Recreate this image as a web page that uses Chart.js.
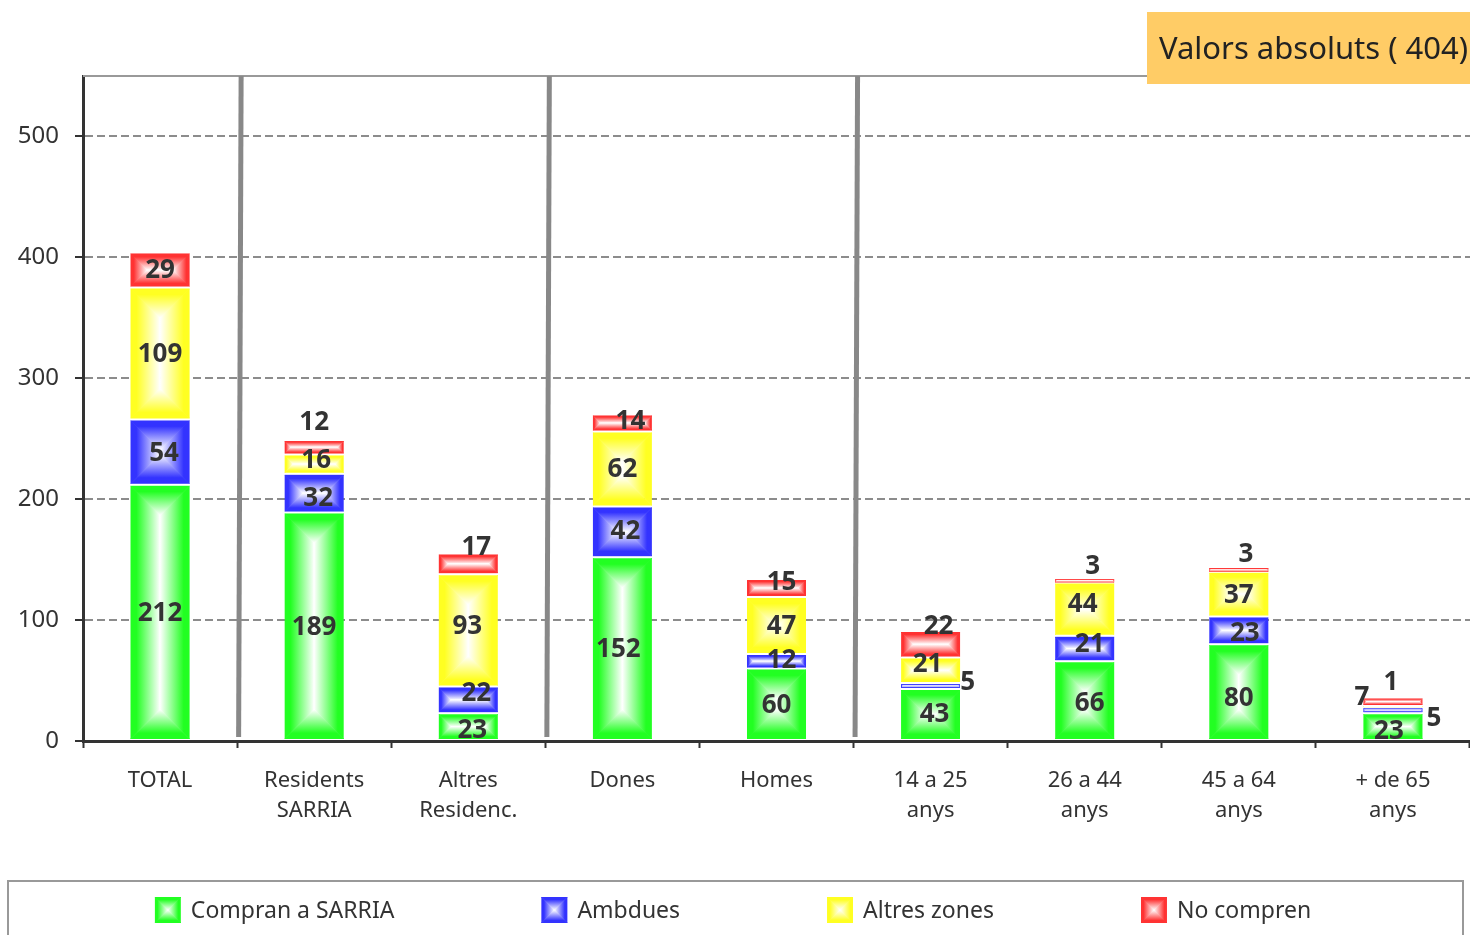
<!DOCTYPE html>
<html>
<head>
<meta charset="utf-8">
<script src="https://cdn.jsdelivr.net/npm/chart.js@4.4.1/dist/chart.umd.min.js"></script>
<style>
  html, body { margin: 0; padding: 0; background: #fff; }
  #wrap { width: 1470px; height: 935px; }
</style>
</head>
<body>
<div id="wrap"><canvas id="grafic" width="1470" height="935"></canvas></div>
<script>
// dades
const categories = ['TOTAL', ['Residents', 'SARRIA'], ['Altres', 'Residenc.'], 'Dones', 'Homes',
  ['14 a 25', 'anys'], ['26 a 44', 'anys'], ['45 a 64', 'anys'], ['+ de 65', 'anys']];
const compranSarria = [212, 189, 23, 152, 60, 43, 66, 80, 23];
const ambdues       = [54, 32, 22, 42, 12, 5, 21, 23, 5];
const altresZones   = [109, 16, 93, 62, 47, 21, 44, 37, 1];
const noCompren     = [29, 12, 17, 14, 15, 22, 3, 3, 7];
const seriesNames   = ['Compran a SARRIA', 'Ambdues', 'Altres zones', 'No compren'];
const yTicks        = [0, 100, 200, 300, 400, 500];
const totalEnquestats = 404;

const seriesColors = ['#22ff22', '#3333ff', '#ffff22', '#ff3333'];
const FONT = "'Noto Sans', 'DejaVu Sans', sans-serif";

// desplaçament de les etiquetes [dx, dy] per sèrie i categoria
const labelNudge = [
  [[0,0],[0,0],[4,3],[-4,0],[0,0],[4,-1],[5,2],[0,5],[-4,4]],
  [[4,1],[4,4],[8,-7],[3,-1],[5,-2],[37,-4],[5,-5],[6,2],[41,7]],
  [[0,0],[2,-5],[-1,-5],[0,0],[5,0],[-3,-7],[-2,-6],[0,0],[-2,-25]],
  [[0,0],[0,-26],[8,-17],[8,-2],[5,-6],[8,-19],[8,-15],[7,-16],[-31,-5]],
];

// farciment "piràmide": color a les vores, blanc al centre
function boxFill(ctx, x0, y0, x1, y1, color) {
  const w = x1 - x0, h = y1 - y0;
  if (w <= 0 || h <= 0) return;
  const c = Math.min(w, h) / 2, cx = (x0 + x1) / 2, cy = (y0 + y1) / 2;
  let ix0, ix1, iy0, iy1;
  if (h >= w) { ix0 = ix1 = cx; iy0 = y0 + c; iy1 = y1 - c; }
  else { iy0 = iy1 = cy; ix0 = x0 + c; ix1 = x1 - c; }
  const parts = [
    [[x0, y0], [ix0, iy0], [ix0, iy1], [x0, y1], x0, 0, x0 + c, 0],
    [[x1, y0], [ix1, iy0], [ix1, iy1], [x1, y1], x1, 0, x1 - c, 0],
    [[x0, y0], [x1, y0], [ix1, iy0], [ix0, iy0], 0, y0, 0, y0 + c],
    [[x0, y1], [x1, y1], [ix1, iy1], [ix0, iy1], 0, y1, 0, y1 - c],
  ];
  ctx.save();
  ctx.beginPath(); ctx.rect(x0, y0, w, h); ctx.clip();
  parts.forEach(p => {
    const g = ctx.createLinearGradient(p[4], p[5], p[6], p[7]);
    g.addColorStop(0, color);
    g.addColorStop(0.2, color);
    g.addColorStop(1, '#ffffff');
    ctx.fillStyle = g; ctx.strokeStyle = g; ctx.lineWidth = 0.8;
    ctx.beginPath();
    ctx.moveTo(p[0][0], p[0][1]); ctx.lineTo(p[1][0], p[1][1]);
    ctx.lineTo(p[2][0], p[2][1]); ctx.lineTo(p[3][0], p[3][1]);
    ctx.closePath(); ctx.fill(); ctx.stroke();
  });
  ctx.restore();
}

const barsPlugin = {
  id: 'bars',
  afterDatasetsDraw(chart) {
    const ctx = chart.ctx, area = chart.chartArea;
    chart.data.datasets.forEach((ds, i) => {
      chart.getDatasetMeta(i).data.forEach(bar => {
        const p = bar.getProps(['x', 'y', 'base', 'width'], true);
        const inset = (p.base - p.y) > 6 ? 1 : 0;
        boxFill(ctx, p.x - p.width / 2, p.y + inset, p.x + p.width / 2,
          Math.min(p.base - inset, area.bottom - 2), seriesColors[i]);
      });
    });
    ctx.save();
    ctx.font = 'bold 26px ' + FONT;
    ctx.fillStyle = '#333';
    ctx.textAlign = 'center';
    ctx.textBaseline = 'middle';
    chart.data.datasets.forEach((ds, i) => {
      chart.getDatasetMeta(i).data.forEach((bar, j) => {
        const p = bar.getProps(['x', 'y', 'base'], true);
        const n = labelNudge[i][j];
        ctx.fillText(String(ds.data[j]), p.x + n[0], (p.y + p.base) / 2 + n[1] + 1);
      });
    });
    ctx.restore();
  }
};

const decorPlugin = {
  id: 'decor',
  afterDraw(chart) {
    const ctx = chart.ctx, area = chart.chartArea;
    ctx.save();
    // línia superior
    ctx.strokeStyle = '#999'; ctx.lineWidth = 2;
    ctx.beginPath(); ctx.moveTo(area.left, area.top); ctx.lineTo(area.right, area.top); ctx.stroke();
    // separadors de grups
    const step = (area.right - area.left) / categories.length;
    ctx.strokeStyle = '#888'; ctx.lineWidth = 5;
    [1, 3, 5].forEach(k => {
      const bx = area.left + step * k;
      ctx.beginPath(); ctx.moveTo(bx + 4, area.top); ctx.lineTo(bx + 1.5, area.bottom - 4); ctx.stroke();
    });
    // títol
    ctx.fillStyle = '#ffcc66';
    ctx.fillRect(1147, 12, 323, 72);
    ctx.fillStyle = '#222';
    ctx.font = '31px ' + FONT;
    ctx.textAlign = 'left'; ctx.textBaseline = 'middle';
    ctx.fillText('Valors absoluts ( ' + totalEnquestats + ')', 1159, 50);
    // llegenda
    ctx.strokeStyle = '#999'; ctx.lineWidth = 2;
    ctx.strokeRect(8, 881, 1455, 70);
    ctx.font = '23px ' + FONT;
    const box = 26, gapText = 10, gapItem = 147;
    const widths = seriesNames.map(n => box + gapText + ctx.measureText(n).width);
    const total = widths.reduce((a, b) => a + b, 0) + gapItem * (widths.length - 1);
    let lx = 733 - total / 2;
    seriesNames.forEach((n, i) => {
      boxFill(ctx, lx, 897, lx + box, 923, seriesColors[i]);
      ctx.fillStyle = '#333';
      ctx.fillText(n, lx + box + gapText, 911);
      lx += widths[i] + gapItem;
    });
    ctx.restore();
  }
};

new Chart(document.getElementById('grafic'), {
  type: 'bar',
  data: {
    labels: categories,
    datasets: [compranSarria, ambdues, altresZones, noCompren].map((vals, i) => ({
      label: seriesNames[i],
      data: vals,
      backgroundColor: 'rgba(0,0,0,0)',
      borderWidth: 0,
      barPercentage: 0.383,
      categoryPercentage: 1,
    })),
  },
  options: {
    responsive: false,
    animation: false,
    devicePixelRatio: 1,
    layout: { padding: { top: 76, left: 0, right: 0, bottom: 0 } },
    plugins: { legend: { display: false }, tooltip: { enabled: false } },
    scales: {
      x: {
        stacked: true,
        grid: { offset: true, drawOnChartArea: false, tickLength: 7, tickColor: '#333', tickWidth: 2 },
        border: { color: '#333', width: 3 },
        ticks: { color: '#333', font: { family: FONT, size: 22, lineHeight: 1.36 }, padding: 18, maxRotation: 0, autoSkip: false },
        afterFit: s => { s.height = 194; },
      },
      y: {
        stacked: true,
        min: 0,
        max: 550,
        afterBuildTicks: s => { s.ticks = yTicks.map(v => ({ value: v })); },
        grid: { color: '#8c8c8c', lineWidth: 2, tickColor: '#333', tickLength: 8, tickWidth: 2, tickBorderDash: [] },
        border: { color: '#333', width: 3, dash: [8, 4] },
        ticks: { color: '#333', font: { family: FONT, size: 24 }, padding: 16 },
        afterFit: s => { s.width = 83; },
      },
    },
  },
  plugins: [barsPlugin, decorPlugin],
});
</script>
</body>
</html>
